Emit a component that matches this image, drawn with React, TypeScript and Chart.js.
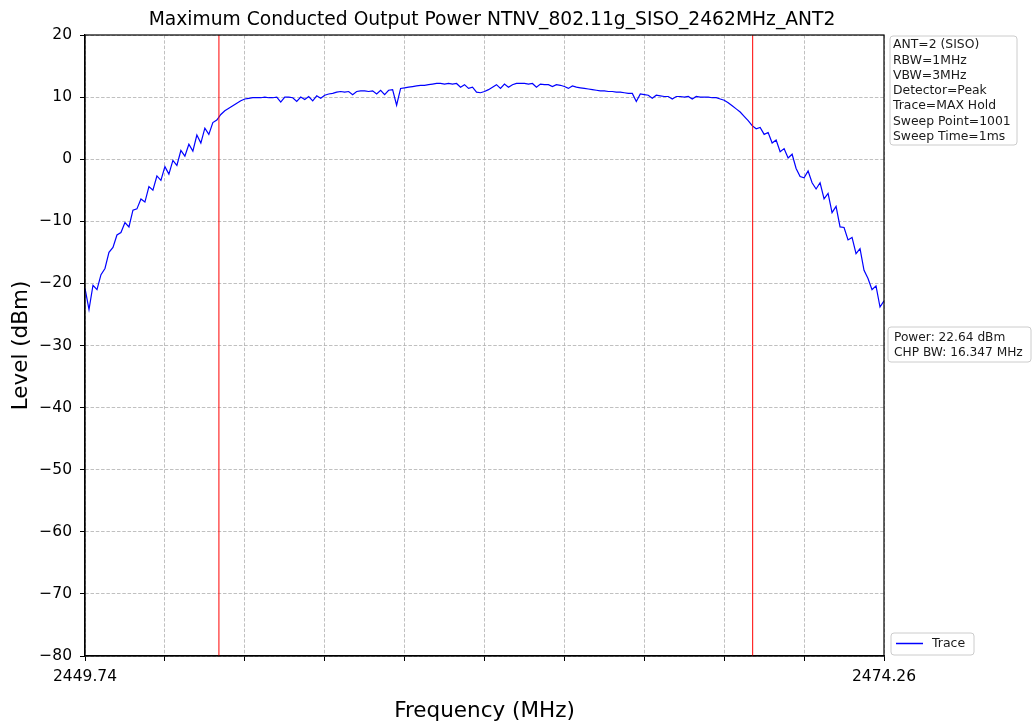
import React, { useEffect, useRef } from 'react';
import { Chart, registerables } from 'chart.js';

Chart.register(...registerables);

const TITLE = 'Maximum Conducted Output Power NTNV_802.11g_SISO_2462MHz_ANT2';
const X_LABEL = 'Frequency (MHz)';
const Y_LABEL = 'Level (dBm)';

const START_FREQ = 2449.74;
const STOP_FREQ = 2474.26;

const X_TICKS = [2449.74, 2452.192, 2454.644, 2457.096, 2459.548, 2462.0, 2464.452, 2466.904, 2469.356, 2471.808, 2474.26];
const X_TICK_LABELS = ['2449.74', '', '', '', '', '', '', '', '', '', '2474.26'];
const Y_TICKS = [-80, -70, -60, -50, -40, -30, -20, -10, 0, 10, 20];

const MARKER_FREQS = [2453.85, 2470.23];

// Trace levels (dBm), evenly spaced over the sweep span
const LEVELS = [
  -20.8, -24.2, -20.3, -21.0, -18.6, -17.6, -15.0, -14.2, -12.2, -11.8,
  -10.2, -10.9, -8.2, -8.0, -6.4, -6.9, -4.4, -5.0, -2.7, -3.4,
  -1.2, -2.4, -0.2, -1.0, 1.4, 0.5, 2.4, 1.3, 3.9, 2.6,
  5.0, 4.0, 5.9, 6.3, 7.2, 7.8, 8.2, 8.6, 9.0, 9.4,
  9.7, 9.8, 9.9, 9.9, 9.9, 10.0, 9.9, 9.9, 10.0, 9.2,
  10.0, 10.0, 9.9, 9.3, 10.0, 9.6, 10.1, 9.4, 10.2, 9.8,
  10.3, 10.5, 10.6, 10.8, 10.9, 10.8, 10.9, 10.4, 10.9, 11.0,
  11.0, 10.9, 11.0, 10.5, 11.1, 10.4, 11.1, 11.2, 8.7, 11.4,
  11.5, 11.6, 11.7, 11.8, 11.9, 11.9, 12.0, 12.1, 12.2, 12.2,
  12.1, 12.2, 12.1, 12.2, 11.6, 12.0, 11.4, 11.6, 10.8, 10.7,
  10.9, 11.2, 11.6, 12.0, 11.4, 12.1, 11.6, 12.0, 12.2, 12.2,
  12.2, 12.1, 12.2, 11.6, 12.1, 12.0, 12.0, 11.7, 12.0, 11.9,
  11.7, 11.4, 11.8, 11.6, 11.5, 11.4, 11.3, 11.2, 11.1, 11.0,
  11.0, 10.9, 10.9, 10.8, 10.8, 10.7, 10.6, 10.6, 9.3, 10.5,
  10.4, 10.3, 9.8, 10.3, 10.2, 10.1, 10.1, 9.7, 10.1, 10.1,
  10.0, 10.1, 9.7, 10.1, 10.0, 10.0, 10.0, 9.9, 9.9, 9.7,
  9.5, 9.1, 8.6, 8.1, 7.6, 6.9, 6.2, 5.4, 4.9, 5.1,
  4.0, 4.3, 2.6, 3.1, 1.2, 1.7, 0.2, 0.8, -1.5, -2.8,
  -3.0, -1.9, -3.8, -4.8, -3.8, -6.4, -5.5, -8.6, -7.6, -10.9,
  -11.0, -13.0, -12.6, -15.2, -14.4, -17.9, -19.2, -21.0, -20.4, -23.8, -22.8,
];

const INFO_LINES = [
  'ANT=2 (SISO)',
  'RBW=1MHz',
  'VBW=3MHz',
  'Detector=Peak',
  'Trace=MAX Hold',
  'Sweep Point=1001',
  'Sweep Time=1ms',
];
const POWER_LINES = ['Power: 22.64 dBm', 'CHP BW: 16.347 MHz'];
const LEGEND_LABEL = 'Trace';

const FONT = '"DejaVu Sans", "Liberation Sans", sans-serif';
const TRACE_COLOR = '#0000ff';
const MARKER_COLOR = '#ff0000';

function roundBox(ctx: CanvasRenderingContext2D, x: number, y: number, w: number, h: number, r: number) {
  ctx.beginPath();
  ctx.moveTo(x + r, y);
  ctx.lineTo(x + w - r, y);
  ctx.arcTo(x + w, y, x + w, y + r, r);
  ctx.lineTo(x + w, y + h - r);
  ctx.arcTo(x + w, y + h, x + w - r, y + h, r);
  ctx.lineTo(x + r, y + h);
  ctx.arcTo(x, y + h, x, y + h - r, r);
  ctx.lineTo(x, y + r);
  ctx.arcTo(x, y, x + r, y, r);
  ctx.closePath();
  ctx.fillStyle = 'rgba(255,255,255,0.85)';
  ctx.fill();
  ctx.strokeStyle = '#cccccc';
  ctx.lineWidth = 1;
  ctx.stroke();
}

const overlayPlugin = {
  id: 'overlay',
  beforeDraw(chart: any) {
    const { ctx, width, height } = chart;
    ctx.save();
    ctx.fillStyle = '#ffffff';
    ctx.fillRect(0, 0, width, height);
    ctx.restore();
  },
  afterDraw(chart: any) {
    const { ctx, chartArea: a } = chart;
    ctx.save();
    // frame
    ctx.strokeStyle = '#000000';
    ctx.lineWidth = 1.2;
    ctx.strokeRect(a.left, a.top, a.right - a.left, a.bottom - a.top);

    // title
    ctx.fillStyle = '#000000';
    ctx.textAlign = 'center';
    ctx.textBaseline = 'alphabetic';
    ctx.font = `18.7px ${FONT}`;
    ctx.fillText(TITLE, 492, 24.5);

    // axis titles
    ctx.font = `21.5px ${FONT}`;
    ctx.fillText(X_LABEL, (a.left + a.right) / 2, 717);
    ctx.save();
    ctx.translate(27, (a.top + a.bottom) / 2);
    ctx.rotate(-Math.PI / 2);
    ctx.fillText(Y_LABEL, 0, 0);
    ctx.restore();

    // info box
    ctx.textAlign = 'left';
    ctx.textBaseline = 'middle';
    roundBox(ctx, a.right + 6, a.top + 1, 127, 109, 3);
    ctx.fillStyle = '#1a1a1a';
    ctx.font = `12.4px ${FONT}`;
    INFO_LINES.forEach((t, i) => ctx.fillText(t, a.right + 9, a.top + 10 + i * 15.3));

    // power box
    roundBox(ctx, a.right + 4, 327, 143, 35, 3);
    ctx.fillStyle = '#1a1a1a';
    ctx.font = `12.2px ${FONT}`;
    POWER_LINES.forEach((t, i) => ctx.fillText(t, a.right + 10, 337.5 + i * 15));

    // legend box
    roundBox(ctx, a.right + 7, a.bottom - 23, 83, 22, 3);
    ctx.strokeStyle = TRACE_COLOR;
    ctx.lineWidth = 1.5;
    ctx.beginPath();
    ctx.moveTo(a.right + 12, a.bottom - 12.5);
    ctx.lineTo(a.right + 39, a.bottom - 12.5);
    ctx.stroke();
    ctx.fillStyle = '#1a1a1a';
    ctx.font = `12.5px ${FONT}`;
    ctx.fillText(LEGEND_LABEL, a.right + 48, a.bottom - 12);
    ctx.restore();
  },
};

export default function App() {
  const canvasRef = useRef<HTMLCanvasElement | null>(null);

  useEffect(() => {
    const canvas = canvasRef.current;
    if (!canvas) return;
    const step = (STOP_FREQ - START_FREQ) / (LEVELS.length - 1);
    const traceData = LEVELS.map((v, i) => ({ x: START_FREQ + i * step, y: v }));
    const markerSets = MARKER_FREQS.map((f) => ({
      label: 'marker',
      data: [
        { x: f, y: Y_TICKS[0] },
        { x: f, y: Y_TICKS[Y_TICKS.length - 1] },
      ],
      borderColor: MARKER_COLOR,
      borderWidth: 1,
      pointRadius: 0,
      order: 0,
    }));

    const chart = new Chart(canvas, {
      type: 'line',
      data: {
        datasets: [
          ...markerSets,
          {
            label: LEGEND_LABEL,
            data: traceData,
            borderColor: TRACE_COLOR,
            borderWidth: 1.2,
            pointRadius: 0,
            tension: 0,
            order: 1,
          },
        ],
      },
      options: {
        responsive: false,
        maintainAspectRatio: false,
        animation: false,
        devicePixelRatio: 1,
        events: [],
        layout: { padding: { top: 35, right: 148, left: 0, bottom: 0 } },
        plugins: {
          legend: { display: false },
          tooltip: { enabled: false },
          title: { display: false },
        },
        scales: {
          x: {
            type: 'linear',
            min: START_FREQ,
            max: STOP_FREQ,
            afterBuildTicks: (scale: any) => {
              scale.ticks = X_TICKS.map((v) => ({ value: v }));
            },
            afterFit: (scale: any) => {
              scale.height = 67;
            },
            ticks: {
              autoSkip: false,
              maxRotation: 0,
              minRotation: 0,
              padding: 7,
              color: '#000000',
              font: { family: FONT, size: 15.5 },
              callback: (_v: any, i: number) => X_TICK_LABELS[i],
            },
            grid: {
              color: '#b0b0b0',
              lineWidth: 0.8,
              tickColor: '#000000',
              tickLength: 5,
              tickWidth: 1,
              tickBorderDash: [],
            },
            border: { display: true, color: '#000000', width: 1.2, dash: [3.5, 1.8] },
          },
          y: {
            type: 'linear',
            min: -80,
            max: 20,
            afterBuildTicks: (scale: any) => {
              scale.ticks = Y_TICKS.map((v) => ({ value: v }));
            },
            afterFit: (scale: any) => {
              scale.width = 85;
            },
            ticks: {
              padding: 8,
              color: '#000000',
              font: { family: FONT, size: 15.5 },
              callback: (v: any) => String(v).replace('-', '\u2212'),
            },
            grid: {
              color: '#b0b0b0',
              lineWidth: 0.8,
              tickColor: '#000000',
              tickLength: 5,
              tickWidth: 1,
              tickBorderDash: [],
            },
            border: { display: true, color: '#000000', width: 1.2, dash: [3.5, 1.8] },
          },
        },
      },
      plugins: [overlayPlugin],
    } as any);

    return () => chart.destroy();
  }, []);

  return (
    <div style={{ position: 'fixed', left: 0, top: 0, width: 1032, height: 723, background: '#fff' }}>
      <canvas ref={canvasRef} width={1032} height={723} style={{ display: 'block', width: 1032, height: 723 }} />
    </div>
  );
}
